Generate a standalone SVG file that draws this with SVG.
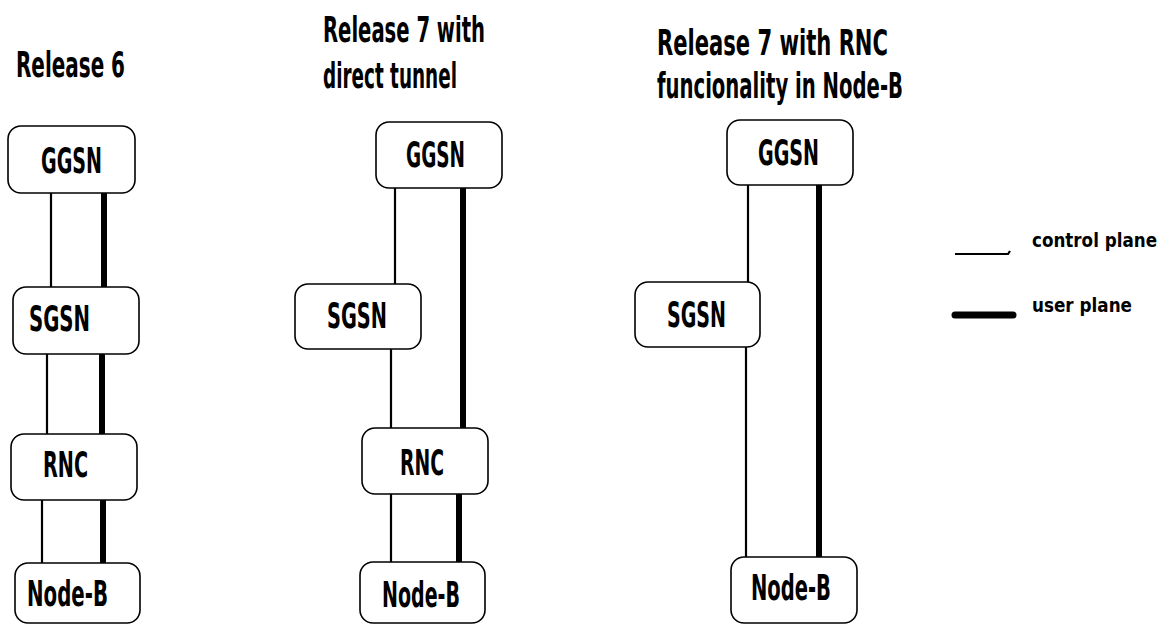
<svg xmlns="http://www.w3.org/2000/svg" width="1169" height="625" viewBox="0 0 1169 625">
<style>
.box{fill:#fff;stroke:#000;stroke-width:1.6}
.t{font-family:"DejaVu Sans Condensed","Liberation Sans Narrow","DejaVu Sans",sans-serif;font-weight:bold;font-size:36px;fill:#000}
.h{font-family:"DejaVu Sans Condensed","Liberation Sans Narrow","DejaVu Sans",sans-serif;font-weight:bold;font-size:35px;fill:#000}
.l{font-family:"DejaVu Sans Condensed","Liberation Sans Narrow","DejaVu Sans",sans-serif;font-weight:bold;font-size:20px;fill:#000}
.cp{stroke:#000;stroke-width:2.2;fill:none}
.up{stroke:#000;stroke-width:6;stroke-linecap:round;fill:none}
</style>
<rect width="1169" height="625" fill="#fff"/>

<g id="titles">
<text class="h" x="16" y="77" textLength="109" lengthAdjust="spacingAndGlyphs">Release 6</text>
<text class="h" x="323" y="42" textLength="162" lengthAdjust="spacingAndGlyphs">Release 7 with</text>
<text class="h" x="323" y="88" textLength="134" lengthAdjust="spacingAndGlyphs">direct tunnel</text>
<text class="h" x="657" y="55" textLength="231" lengthAdjust="spacingAndGlyphs">Release 7 with RNC</text>
<text class="h" x="657" y="98" textLength="246" lengthAdjust="spacingAndGlyphs">funcionality in Node-B</text>
</g>

<g id="connectors">
<!-- Release 6 -->
<line class="cp" x1="51" y1="193" x2="51" y2="287"/>
<line class="up" x1="104" y1="193" x2="104" y2="289"/>
<line class="cp" x1="47" y1="354" x2="47" y2="434"/>
<line class="up" x1="102" y1="352" x2="102" y2="435"/>
<line class="cp" x1="42" y1="500" x2="42" y2="563"/>
<line class="up" x1="103" y1="499" x2="103" y2="564"/>
<!-- Release 7 direct tunnel -->
<line class="cp" x1="395" y1="188" x2="395" y2="284"/>
<line class="up" x1="463" y1="187" x2="463" y2="428"/>
<line class="cp" x1="391" y1="349" x2="391" y2="428"/>
<line class="cp" x1="391" y1="494" x2="391" y2="562"/>
<line class="up" x1="459" y1="494" x2="459" y2="562"/>
<!-- Release 7 RNC in Node-B -->
<line class="cp" x1="748" y1="185" x2="748" y2="282"/>
<line class="up" x1="819" y1="185" x2="819" y2="558"/>
<line class="cp" x1="746" y1="347" x2="746" y2="557"/>
</g>

<g id="r6-ggsn"><rect class="box" x="8" y="126" width="127" height="67" rx="13"/><text class="t" x="41" y="173" textLength="61" lengthAdjust="spacingAndGlyphs">GGSN</text></g>
<g id="r6-sgsn"><rect class="box" x="13" y="287" width="126" height="67" rx="13"/><text class="t" x="29" y="331" textLength="61" lengthAdjust="spacingAndGlyphs">SGSN</text></g>
<g id="r6-rnc"><rect class="box" x="11" y="434" width="126" height="66" rx="13"/><text class="t" x="43" y="477" textLength="45" lengthAdjust="spacingAndGlyphs">RNC</text></g>
<g id="r6-nodeb"><rect class="box" x="15" y="563" width="125" height="60" rx="13"/><text class="t" x="27" y="606" textLength="81" lengthAdjust="spacingAndGlyphs">Node-B</text></g>

<g id="r7a-ggsn"><rect class="box" x="376" y="122" width="126" height="66" rx="13"/><text class="t" x="406" y="167" textLength="59" lengthAdjust="spacingAndGlyphs">GGSN</text></g>
<g id="r7a-sgsn"><rect class="box" x="295" y="284" width="126" height="65" rx="13"/><text class="t" x="327" y="328" textLength="60" lengthAdjust="spacingAndGlyphs">SGSN</text></g>
<g id="r7a-rnc"><rect class="box" x="362" y="428" width="126" height="66" rx="13"/><text class="t" x="400" y="475" textLength="44" lengthAdjust="spacingAndGlyphs">RNC</text></g>
<g id="r7a-nodeb"><rect class="box" x="360" y="562" width="125" height="61" rx="13"/><text class="t" x="382" y="607" textLength="78" lengthAdjust="spacingAndGlyphs">Node-B</text></g>

<g id="r7b-ggsn"><rect class="box" x="727" y="120" width="126" height="65" rx="13"/><text class="t" x="758" y="165" textLength="61" lengthAdjust="spacingAndGlyphs">GGSN</text></g>
<g id="r7b-sgsn"><rect class="box" x="635" y="282" width="125" height="65" rx="13"/><text class="t" x="667" y="327" textLength="59" lengthAdjust="spacingAndGlyphs">SGSN</text></g>
<g id="r7b-nodeb"><rect class="box" x="731" y="557" width="126" height="66" rx="13"/><text class="t" x="751" y="600" textLength="80" lengthAdjust="spacingAndGlyphs">Node-B</text></g>

<g id="legend">
<polyline class="cp" points="955,254 1008,254 1010,251"/>
<text class="l" x="1032" y="247" textLength="125" lengthAdjust="spacingAndGlyphs">control plane</text>
<line stroke="#000" stroke-width="7" stroke-linecap="round" x1="955" y1="315" x2="1013" y2="315"/>
<text class="l" x="1032" y="312" textLength="100" lengthAdjust="spacingAndGlyphs">user plane</text>
</g>
</svg>
